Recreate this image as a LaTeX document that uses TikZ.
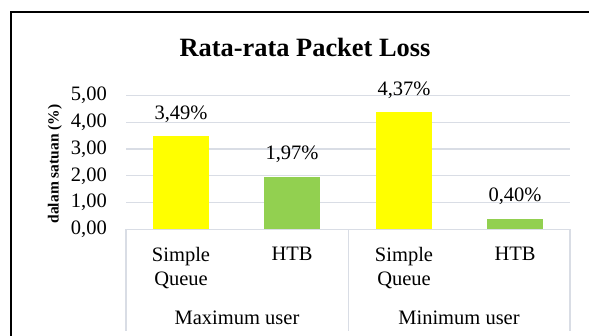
\documentclass[tikz,border=0pt]{standalone}
\usepackage{fontspec}
\setmainfont{Liberation Serif}
\definecolor{gridc}{HTML}{D9DDE5}
\definecolor{baryel}{HTML}{FFFF00}
\definecolor{bargrn}{HTML}{92D050}
\begin{document}
\begin{tikzpicture}[x=1pt,y=-1pt,
  tick/.style={font=\fontsize{20.5}{24}\selectfont, anchor=east, inner sep=0pt},
  val/.style={font=\fontsize{20.5}{24}\selectfont, inner sep=0pt},
  cat/.style={font=\fontsize{20.5}{24}\selectfont, align=center, inner sep=0pt, anchor=north},
  grp/.style={font=\fontsize{20.5}{24}\selectfont, inner sep=0pt},
  gline/.style={draw=gridc, line width=1.3pt}]
\useasboundingbox (0,0) rectangle (589,336);
\clip (0,0) rectangle (589,336);
\fill[white] (0,0) rectangle (589,336);
% outer frame
\draw[line width=1.5pt] (11,12) rectangle (620,360);
% title
\node[font=\bfseries\fontsize{26.4}{30}\selectfont, inner sep=0pt] (title) at (305,47) {Rata-rata Packet Loss};
% gridlines
\foreach \v in {1,2,3,4,5} {
  \draw[gline] (126,229.3-\v*26.77) -- (570,229.3-\v*26.77);
}
% tick labels
\node[tick] (t0) at (107,229.3) {0,00};
\node[tick] (t1) at (107,202.5) {1,00};
\node[tick] (t2) at (107,175.8) {2,00};
\node[tick] (t3) at (107,149.0) {3,00};
\node[tick] (t4) at (107,122.2) {4,00};
\node[tick] (t5) at (107,95.5) {5,00};
% axis title
\node[font=\bfseries\fontsize{15.5}{18}\selectfont, rotate=90, inner sep=0pt] (ytitle) at (55,164) {dalam satuan (\%)};
% bars
\fill[baryel] (153,229.3) rectangle (209,229.3-3.49*26.77);
\fill[bargrn] (264,229.3) rectangle (320,229.3-1.97*26.77);
\fill[baryel] (376,229.3) rectangle (432,229.3-4.37*26.77);
\fill[bargrn] (487,229.3) rectangle (543,229.3-0.40*26.77);
% value labels
\node[val] (v1) at (181,229.3-3.49*26.77-22) {3,49\%};
\node[val] (v2) at (292,229.3-1.97*26.77-22) {1,97\%};
\node[val] (v3) at (404,229.3-4.37*26.77-22) {4,37\%};
\node[val] (v4) at (515,229.3-0.40*26.77-22) {0,40\%};
% axis and category separators
\draw[gline] (126,331) -- (126,229.3) -- (570,229.3) -- (570,331);
\draw[gline] (348.7,229.3) -- (348.7,331);
% category labels
\node[cat] (c1) at (181,247) {Simple\\Queue};
\node[cat] (c2) at (292,247) {HTB};
\node[cat] (c3) at (404,247) {Simple\\Queue};
\node[cat] (c4) at (515,247) {HTB};
\node[grp] (g1) at (237,318) {Maximum user};
\node[grp] (g2) at (459,318) {Minimum user};
\end{tikzpicture}
\end{document}
